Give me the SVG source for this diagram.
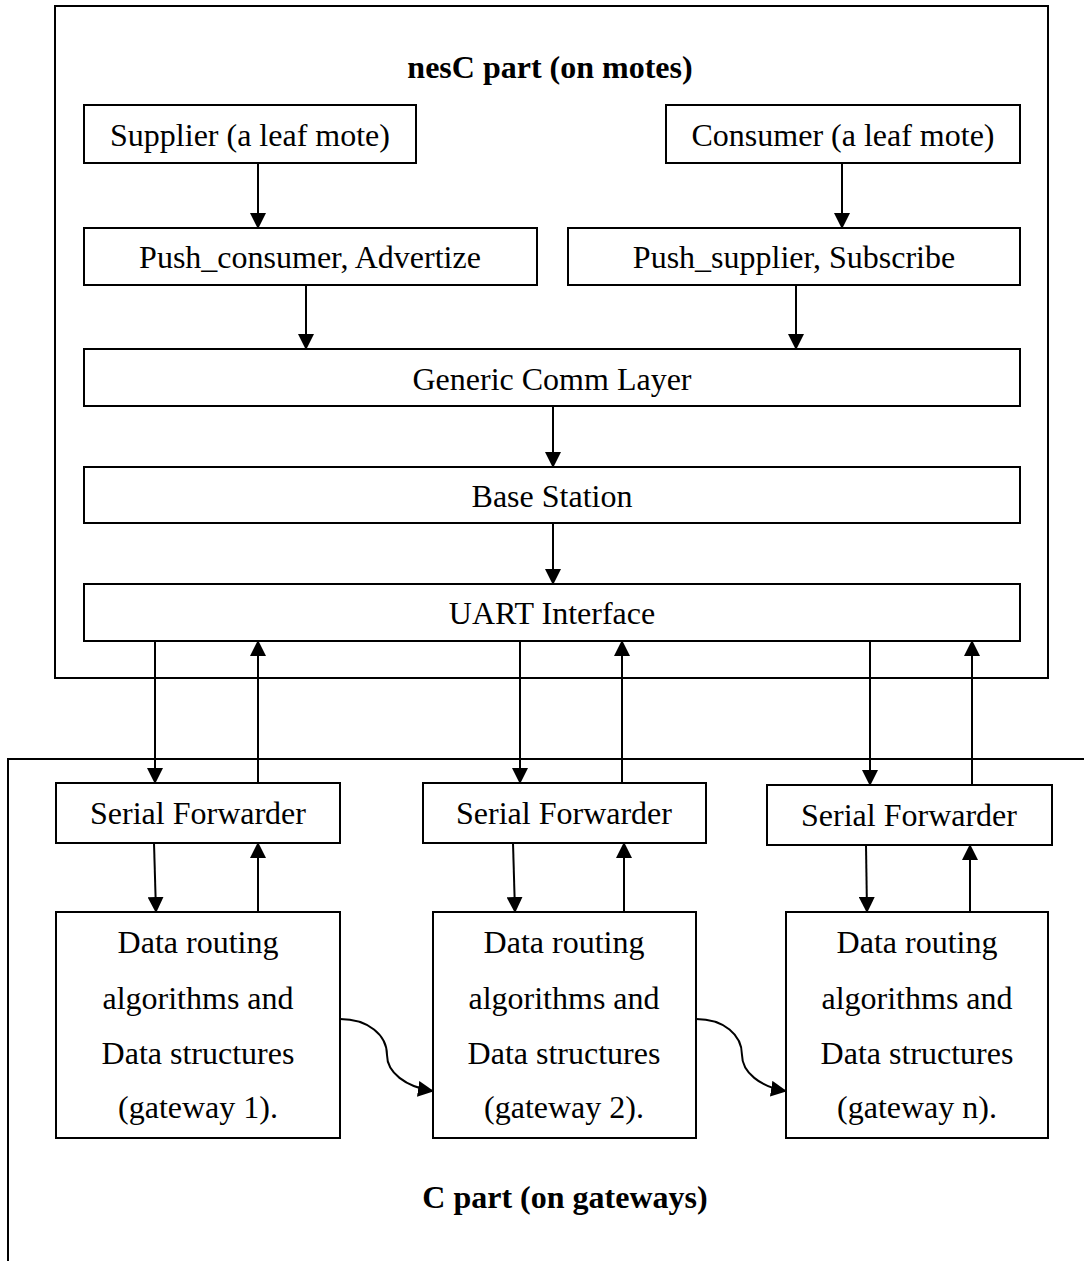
<svg xmlns="http://www.w3.org/2000/svg" width="1084" height="1261" viewBox="0 0 1084 1261">
<style>
.box{fill:#fff;stroke:#000;stroke-width:2}
.frame{fill:none;stroke:#000;stroke-width:2}
.t{font-family:"Liberation Serif","Times New Roman",serif;font-size:32px;fill:#000;text-anchor:middle}
.h{font-family:"Liberation Serif","Times New Roman",serif;font-size:32px;font-weight:bold;fill:#000;text-anchor:middle}
.c{fill:none;stroke:#000;stroke-width:2;marker-end:url(#ah)}
</style>
<defs>
<marker id="ah" markerUnits="userSpaceOnUse" markerWidth="16" markerHeight="16" viewBox="0 0 16 16" refX="15" refY="8" orient="auto">
<path d="M0,0 L16,8 L0,16 Z" fill="#000"/>
</marker>
</defs>
<rect width="1084" height="1261" fill="#fff"/>
<g id="nesc-part">
<rect class="frame" x="55" y="6" width="993" height="672"/>
<text class="h" x="550" y="78">nesC part (on motes)</text>
</g>
<g id="c-part">
<path class="frame" d="M8,1261 L8,759 L1084,759"/>
<text class="h" x="565" y="1208">C part (on gateways)</text>
</g>
<g id="supplier"><rect class="box" x="84" y="105" width="332" height="58"/><text class="t" x="250" y="146">Supplier (a leaf mote)</text></g>
<g id="consumer"><rect class="box" x="666" y="105" width="354" height="58"/><text class="t" x="843" y="146">Consumer (a leaf mote)</text></g>
<g id="push-consumer"><rect class="box" x="84" y="228" width="453" height="57"/><text class="t" x="310" y="268">Push_consumer, Advertize</text></g>
<g id="push-supplier"><rect class="box" x="568" y="228" width="452" height="57"/><text class="t" x="794" y="268">Push_supplier, Subscribe</text></g>
<g id="generic-comm"><rect class="box" x="84" y="349" width="936" height="57"/><text class="t" x="552" y="390">Generic Comm Layer</text></g>
<g id="base-station"><rect class="box" x="84" y="467" width="936" height="56"/><text class="t" x="552" y="507">Base Station</text></g>
<g id="uart"><rect class="box" x="84" y="584" width="936" height="57"/><text class="t" x="552" y="624">UART Interface</text></g>
<g id="sf1"><rect class="box" x="56" y="783" width="284" height="60"/><text class="t" x="198" y="824">Serial Forwarder</text></g>
<g id="sf2"><rect class="box" x="423" y="783" width="283" height="60"/><text class="t" x="564" y="824">Serial Forwarder</text></g>
<g id="sf3"><rect class="box" x="767" y="785" width="285" height="60"/><text class="t" x="909" y="826">Serial Forwarder</text></g>
<g id="gw1"><rect class="box" x="56" y="912" width="284" height="226"/>
<text class="t" x="198" y="953">Data routing</text><text class="t" x="198" y="1009">algorithms and</text><text class="t" x="198" y="1064">Data structures</text><text class="t" x="198" y="1118">(gateway 1).</text></g>
<g id="gw2"><rect class="box" x="433" y="912" width="263" height="226"/>
<text class="t" x="564" y="953">Data routing</text><text class="t" x="564" y="1009">algorithms and</text><text class="t" x="564" y="1064">Data structures</text><text class="t" x="564" y="1118">(gateway 2).</text></g>
<g id="gw3"><rect class="box" x="786" y="912" width="262" height="226"/>
<text class="t" x="917" y="953">Data routing</text><text class="t" x="917" y="1009">algorithms and</text><text class="t" x="917" y="1064">Data structures</text><text class="t" x="917" y="1118">(gateway n).</text></g>
<g id="connectors">
<line class="c" x1="258" y1="163" x2="258" y2="228"/>
<line class="c" x1="842" y1="163" x2="842" y2="228"/>
<line class="c" x1="306" y1="285" x2="306" y2="349"/>
<line class="c" x1="796" y1="285" x2="796" y2="349"/>
<line class="c" x1="553" y1="406" x2="553" y2="467"/>
<line class="c" x1="553" y1="523" x2="553" y2="584"/>
<line class="c" x1="155" y1="641" x2="155" y2="783"/>
<line class="c" x1="258" y1="783" x2="258" y2="641"/>
<line class="c" x1="520" y1="641" x2="520" y2="783"/>
<line class="c" x1="622" y1="783" x2="622" y2="641"/>
<line class="c" x1="870" y1="641" x2="870" y2="785"/>
<line class="c" x1="972" y1="785" x2="972" y2="641"/>
<line class="c" x1="154" y1="843" x2="156" y2="912"/>
<line class="c" x1="258" y1="912" x2="258" y2="843"/>
<line class="c" x1="513" y1="843" x2="515" y2="912"/>
<line class="c" x1="624" y1="912" x2="624" y2="843"/>
<line class="c" x1="866" y1="845" x2="867" y2="912"/>
<line class="c" x1="970" y1="912" x2="970" y2="845"/>
<path class="c" d="M340,1019 C368,1019 387,1035 387,1055 C387,1072 405,1087 433,1091"/>
<path class="c" d="M696,1019 C724,1019 742,1035 742,1055 C742,1072 760,1087 786,1091"/>
</g>
</svg>
